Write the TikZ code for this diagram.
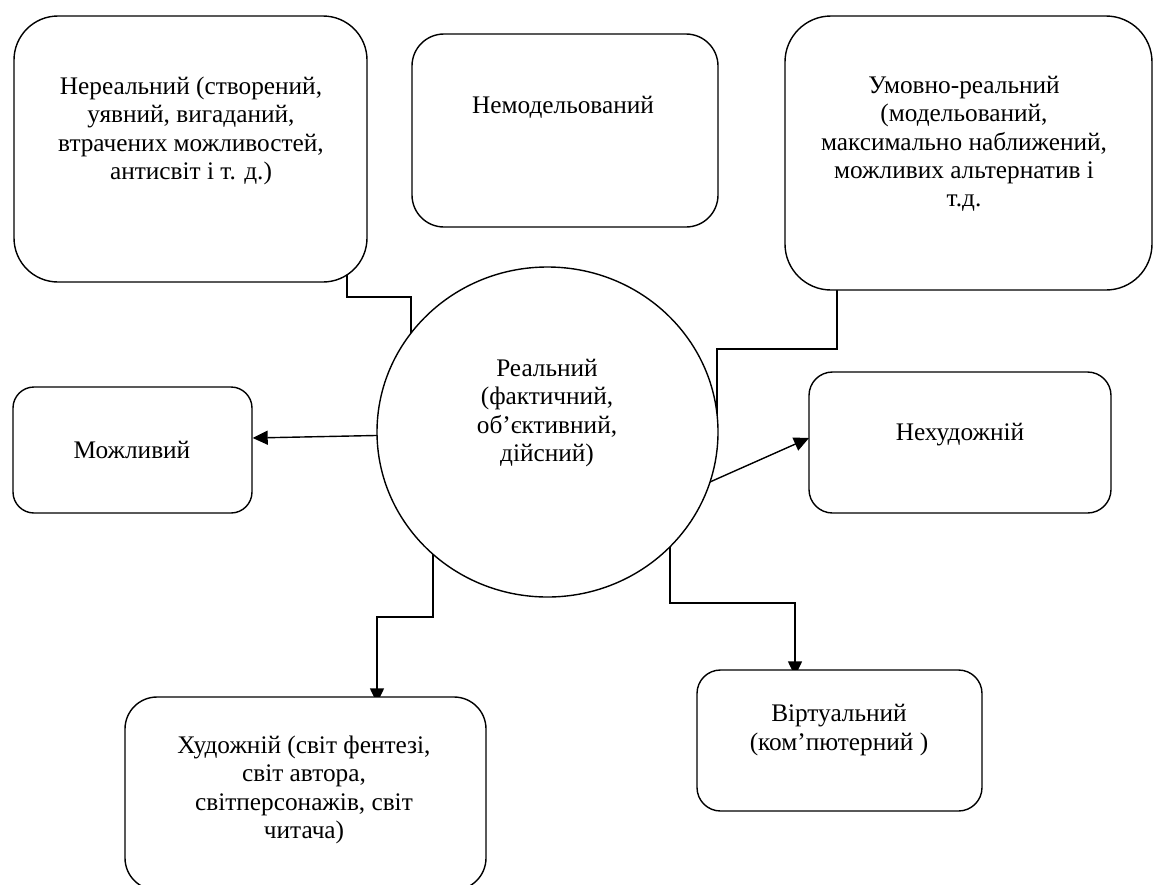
\documentclass[tikz,border=0pt]{standalone}
\usepackage{fontspec}
\setmainfont{Liberation Serif}
\usetikzlibrary{arrows.meta,shapes.geometric,calc}
\pgfdeclarelayer{bg}
\pgfsetlayers{bg,main}
\begin{document}
\begin{tikzpicture}[x=1pt,y=-1pt,
  box/.style={draw, line width=1.4pt, fill=white, rounded corners=#1, inner sep=0pt},
  lbl/.style={align=center, font=\fontsize{25.3}{28.3}\selectfont, inner sep=0pt},
  conn/.style={line width=1.4pt},
  arr/.style={conn, -{Triangle[length=15pt,width=14pt]}}]
\useasboundingbox (0,0) rectangle (1154,884);

% boxes
\node[box=44pt, minimum width=353pt, minimum height=266pt] (tl) at (190.5,149) {};
\node[box=32pt, minimum width=306pt, minimum height=193pt] (mid) at (565,130.5) {};
\node[box=46pt, minimum width=367pt, minimum height=274pt] (tr) at (968.5,153) {};
\node[box=21pt, minimum width=239pt, minimum height=126pt] (mozh) at (132.5,450) {};
\node[box=23.5pt, minimum width=302pt, minimum height=141pt] (nekh) at (960,442.5) {};
\node[box=32pt, minimum width=361pt, minimum height=193pt] (bl) at (305.5,793.5) {};
\node[box=23.5pt, minimum width=285pt, minimum height=141pt] (virt) at (839.5,740.5) {};
\node[draw, ellipse, line width=1.4pt, fill=white, minimum width=341pt, minimum height=330pt, inner sep=0pt] (circ) at (547.5,432) {};

% texts
\node[lbl] (tltext) at (191,131) {Нереальний (створений,\\уявний, вигаданий,\\втрачених можливостей,\\антисвіт і т. д.)};
\node[lbl] (midtext) at (563,107) {Немодельований};
\node[lbl] (trtext) at (964,144) {Умовно-реальний\\(модельований,\\максимально наближений,\\можливих альтернатив і\\т.д.};
\node[lbl] (mozhtext) at (132,450) {Можливий};
\node[lbl] (nekhtext) at (960,435) {Нехудожній};
\node[lbl] (circtext) at (547,413) {Реальний\\(фактичний,\\об’єктивний,\\дійсний)};
\node[lbl] (bltext) at (304,790) {Художній (світ фентезі,\\світ автора,\\світперсонажів, світ\\читача)};
\node[lbl] (virttext) at (839,730) {Віртуальний\\(ком’пютерний )};

% connector waypoints
\coordinate (p1) at (347,297);
\coordinate (p2) at (411,297);
\coordinate (q1) at (837,349);
\coordinate (q2) at (717,349);
\coordinate (n0) at (700,486.4);
\coordinate (n1) at (809,438);
\coordinate (b1) at (433,617);
\coordinate (b2) at (377,617);
\coordinate (v1) at (670,603);
\coordinate (v2) at (795,603);

\begin{pgfonlayer}{bg}
\draw[conn] (p1 |- tl.center) -- (p1) -- (p2) -- (p2 |- circ.center);
\draw[conn] (q1 |- tr.center) -- (q1) -- (q2) -- (q2 |- circ.center);
\draw[arr] (circ.center) -- ($(mozh.east)+(0,-12)$);
\draw[arr] (n0) -- (n1);
\draw[arr] (b1 |- circ.center) -- (b1) -- (b2) -- ($(b2 |- bl.north)+(0,7)$);
\draw[arr] (v1 |- circ.center) -- (v1) -- (v2) -- ($(v2 |- virt.north)+(0,7)$);
\end{pgfonlayer}
\end{tikzpicture}
\end{document}
